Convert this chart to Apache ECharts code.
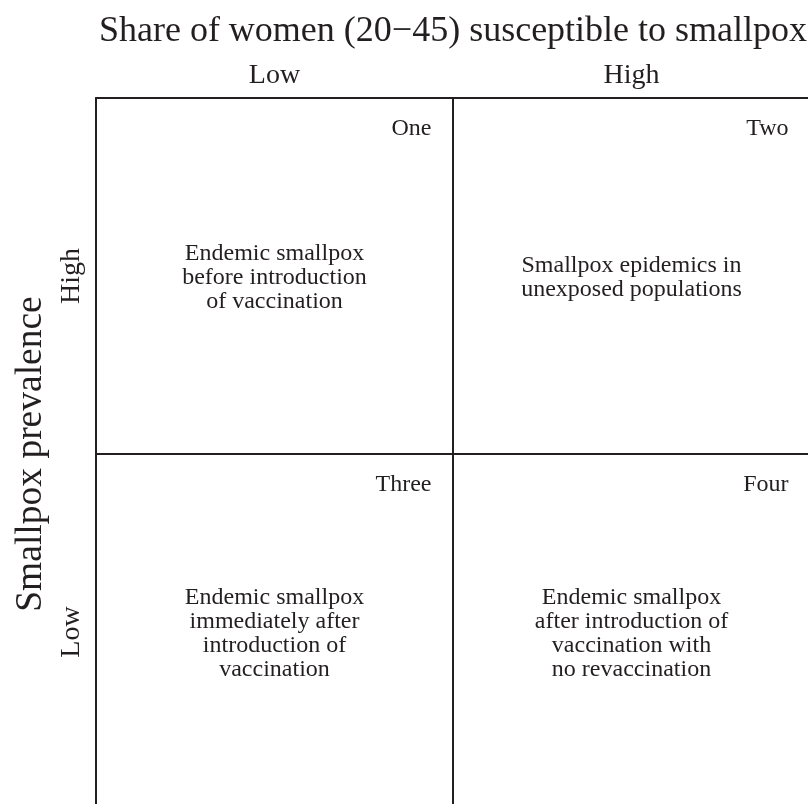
<!DOCTYPE html>
<html>
<head>
<meta charset="utf-8">
<script src="https://cdn.jsdelivr.net/npm/echarts@6/dist/echarts.min.js"></script>
<style>
html,body{margin:0;padding:0;background:#fff;}
#chart{width:808px;height:804px;}
</style>
</head>
<body>
<div id="chart"></div>
<script>
const xTitle = 'Share of women (20\u221245) susceptible to smallpox';
const yTitle = 'Smallpox prevalence';
const colCategories = ['Low', 'High'];
const rowCategories = ['Low', 'High'];
const cellNames = ['One', 'Two', 'Three', 'Four'];
const cellCols = ['Low', 'High', 'Low', 'High'];
const cellRows = ['High', 'High', 'Low', 'Low'];
const cellTexts = [
  'Endemic smallpox\nbefore introduction\nof vaccination',
  'Smallpox epidemics in\nunexposed populations',
  'Endemic smallpox\nimmediately after\nintroduction of\nvaccination',
  'Endemic smallpox\nafter introduction of\nvaccination with\nno revaccination'
];

const FONT = '"Liberation Serif", "Times New Roman", serif';
const INK = '#231f20';
const lineStyle = { color: INK, width: 2 };

const chart = echarts.init(document.getElementById('chart'), null, { renderer: 'canvas' });
chart.setOption({
  backgroundColor: '#fff',
  animation: false,
  grid: {
    left: 96, top: 98, width: 714, height: 712,
    containLabel: false, outerBoundsMode: 'none'
  },
  xAxis: {
    type: 'category',
    data: colCategories,
    position: 'top',
    boundaryGap: true,
    axisLine: { show: true, lineStyle: lineStyle },
    axisTick: { show: false },
    axisLabel: { fontFamily: FONT, fontSize: 28, color: INK, margin: 8 },
    splitLine: { show: true, interval: 0, lineStyle: lineStyle },
    name: xTitle,
    nameLocation: 'middle',
    nameGap: 48,
    nameTextStyle: { fontFamily: FONT, fontSize: 36, color: INK }
  },
  yAxis: {
    type: 'category',
    data: rowCategories,
    boundaryGap: true,
    axisLine: { show: true, lineStyle: lineStyle },
    axisTick: { show: false },
    axisLabel: { fontFamily: FONT, fontSize: 28, color: INK, rotate: 90, margin: 10 },
    splitLine: { show: true, interval: 0, lineStyle: lineStyle },
    name: yTitle,
    nameLocation: 'middle',
    nameGap: 46,
    nameRotate: 90,
    nameTextStyle: { fontFamily: FONT, fontSize: 37.5, color: INK }
  },
  series: [
    {
      type: 'scatter',
      symbolSize: 1,
      itemStyle: { color: 'rgba(0,0,0,0)', opacity: 1 },
      silent: true,
      data: cellNames.map((n, i) => ({ value: [cellCols[i], cellRows[i]], name: n })),
      label: {
        show: true,
        position: 'inside',
        formatter: p => p.name,
        align: 'right',
        verticalAlign: 'middle',
        offset: [157, -147],
        opacity: 1,
        fontFamily: FONT, fontSize: 24, color: INK
      }
    },
    {
      type: 'scatter',
      symbolSize: 1,
      itemStyle: { color: 'rgba(0,0,0,0)', opacity: 1 },
      silent: true,
      data: cellTexts.map((t, i) => ({ value: [cellCols[i], cellRows[i]], name: t })),
      label: {
        show: true,
        position: 'inside',
        formatter: p => p.name,
        align: 'center',
        verticalAlign: 'middle',
        offset: [0, 2],
        opacity: 1,
        fontFamily: FONT, fontSize: 24, lineHeight: 24, color: INK
      }
    }
  ]
});
</script>
</body>
</html>
